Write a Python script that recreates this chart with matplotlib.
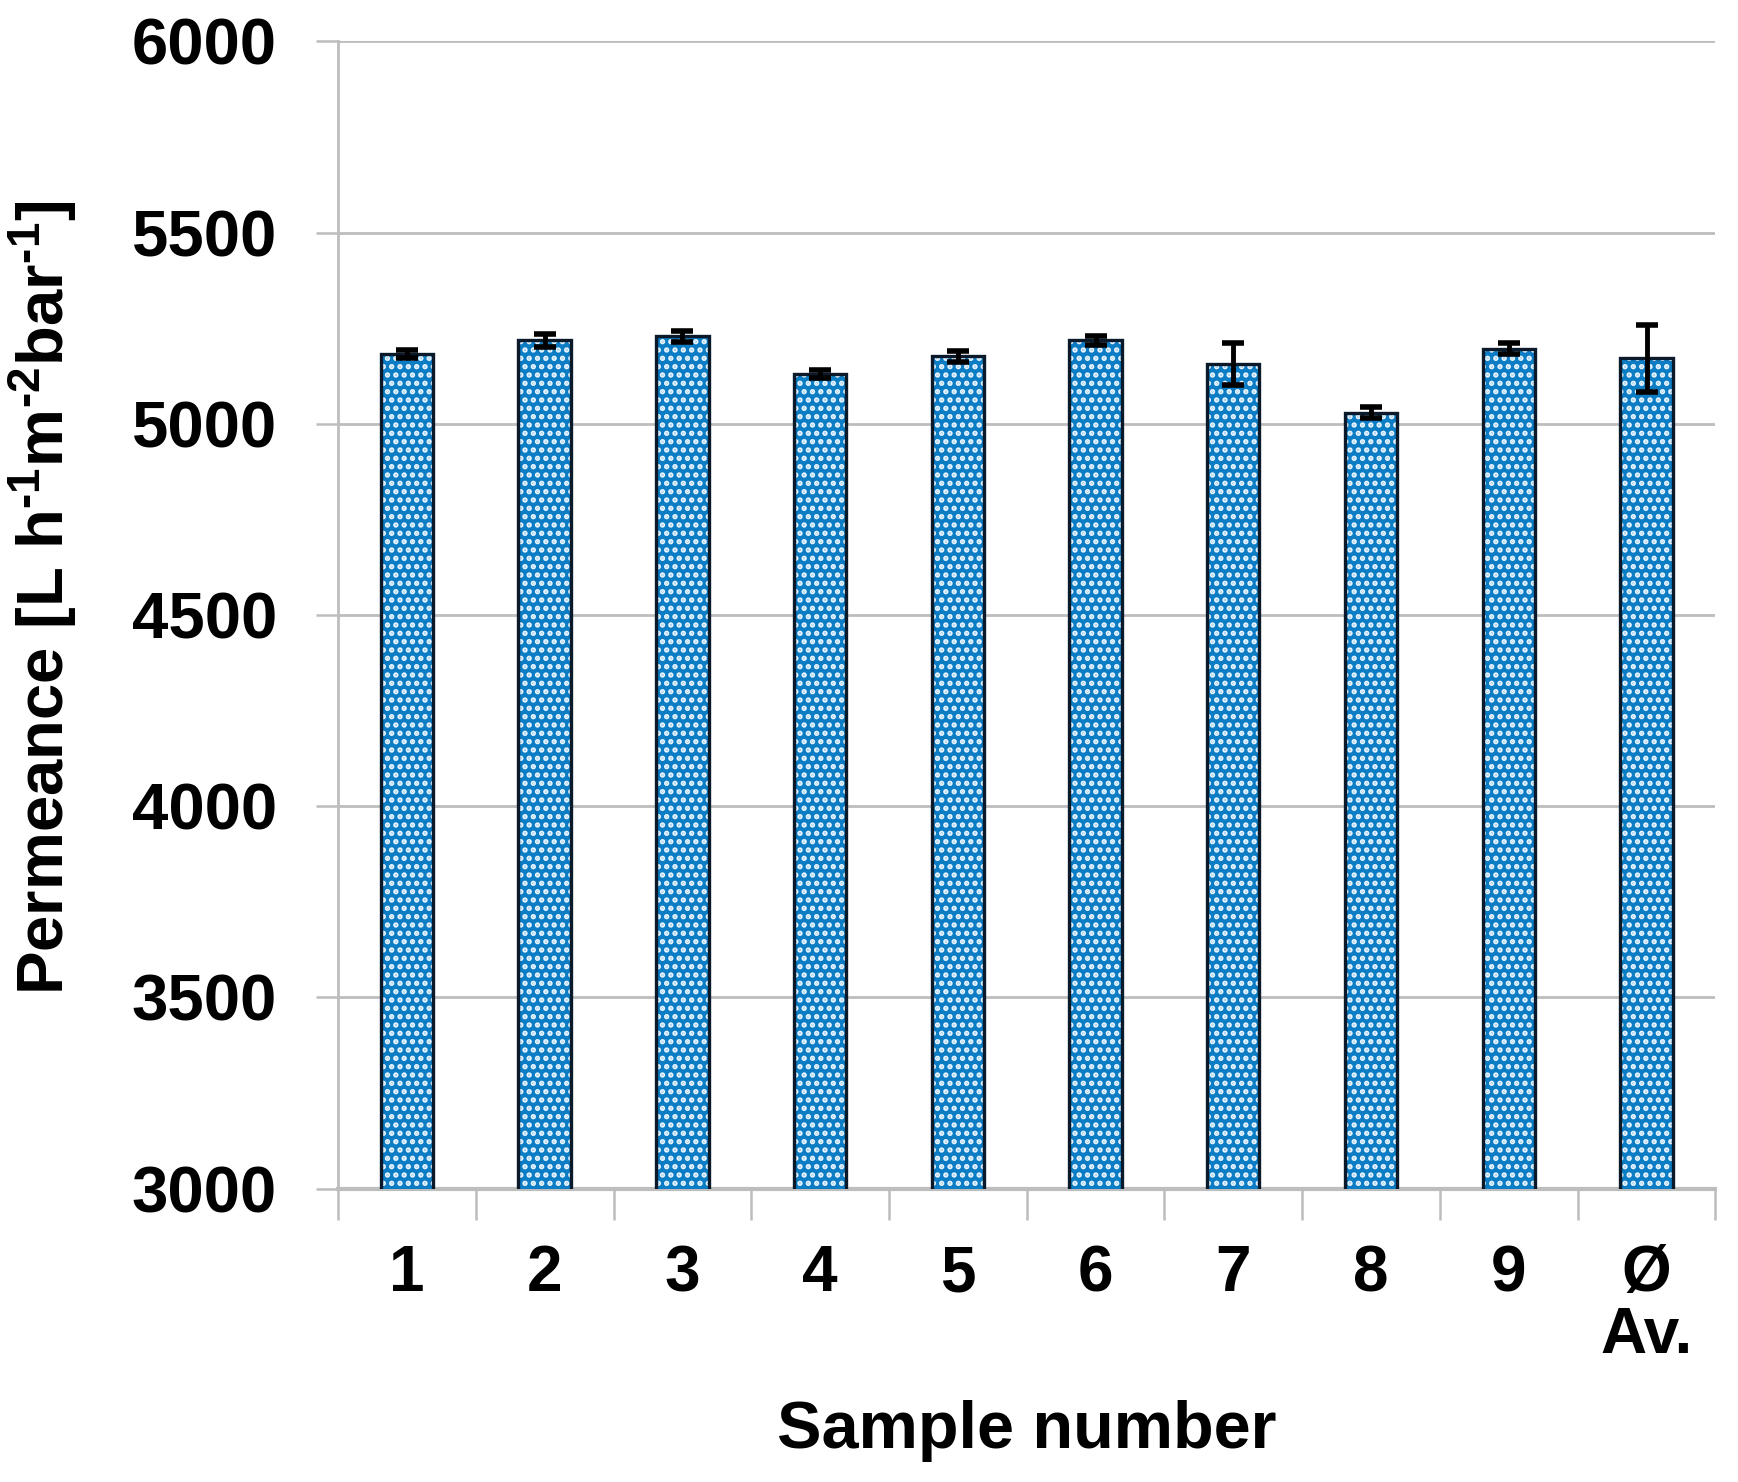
import matplotlib
matplotlib.use("Agg")
import matplotlib.pyplot as plt
import numpy as np

categories = ["1", "2", "3", "4", "5", "6", "7", "8", "9", "Ø\nAv."]
permeance = [5183, 5218, 5229, 5130, 5177, 5218, 5157, 5029, 5197, 5171]
errors = [10, 18, 14, 10, 14, 11, 55, 14, 15, 87]
yticks = [3000, 3500, 4000, 4500, 5000, 5500, 6000]

plt.rcParams['font.family'] = ['Liberation Sans', 'DejaVu Sans']
plt.rcParams['mathtext.fontset'] = 'custom'
plt.rcParams['mathtext.rm'] = 'Liberation Sans:bold'
plt.rcParams['mathtext.bf'] = 'Liberation Sans:bold'
plt.rcParams['mathtext.it'] = 'Liberation Sans:bold'
plt.rcParams['hatch.linewidth'] = 2.6

fig = plt.figure(figsize=(17.38, 14.82), dpi=100)
ax = fig.add_axes([0.1945, 0.198, 0.7925, 0.774])

x = np.arange(len(categories))
w = 0.38
ax.bar(x, permeance, width=w, color='#0c7dc4', edgecolor='#e8f4ff', hatch='..',
       linewidth=0, zorder=3)
ax.bar(x, permeance, width=w, facecolor='none', edgecolor='#0a1a2a',
       linewidth=2.4, zorder=4)
ax.errorbar(x, permeance, yerr=errors, fmt='none', ecolor='black',
            elinewidth=3.5, capsize=8, capthick=4, zorder=5)

ax.set_ylim(3000, 6000)
ax.set_xlim(-0.5, len(categories) - 0.5)
ax.set_yticks(yticks)
ax.set_yticklabels([str(v) for v in yticks], fontsize=47, fontweight='bold')
ax.yaxis.grid(True, color='#bdbdbd', linewidth=2, zorder=0)
ax.set_axisbelow(True)

ax.set_xticks(x)
ax.set_xticklabels(categories, fontsize=46, fontweight='bold', linespacing=1.05,
                   va='top')
ax.tick_params(axis='x', which='major', length=0, pad=40)
ax.set_xticks(np.arange(-0.5, len(categories)), minor=True)
ax.tick_params(axis='x', which='minor', length=22, width=1.8, color='#bdbdbd',
               direction='out')
ax.tick_params(axis='y', which='major', length=16, width=1.8, color='#bdbdbd', pad=28)

for s in ['top', 'right']:
    ax.spines[s].set_visible(False)
ax.spines['left'].set_color('#bdbdbd')
ax.spines['left'].set_linewidth(2)
ax.spines['bottom'].set_color('#bdbdbd')
ax.spines['bottom'].set_linewidth(3)

ax.set_xlabel('Sample number', fontsize=48, fontweight='bold', labelpad=24)
ax.set_ylabel(r'Permeance [L h$^{\text{-1}}$m$^{\text{-2}}$bar$^{\text{-1}}$]',
              fontsize=47, fontweight='bold')
ax.yaxis.set_label_coords(-0.188, 0.515)

fig.savefig('out.png', dpi=100, facecolor='white')
